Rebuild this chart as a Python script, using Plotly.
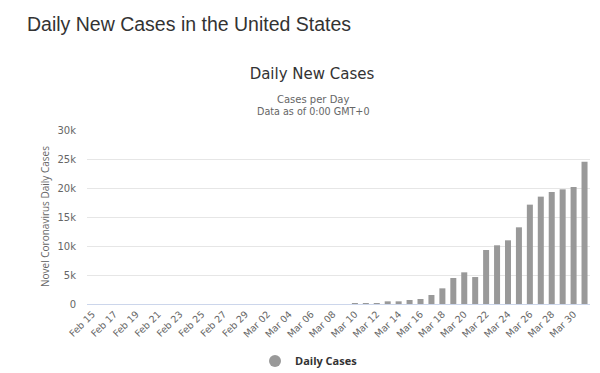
import plotly.graph_objects as go

feb = [f"Feb {d}" for d in range(15, 30)]
mar = [f"Mar {d:02d}" for d in range(1, 32)]
dates = feb + mar

daily_cases = [
    0, 0, 0, 0, 0, 0, 0, 0, 0, 0, 0, 0, 0, 0, 0,            # Feb 15 - Feb 29
    0, 0, 0, 0, 0, 0, 0, 0, 0,                                # Mar 01 - Mar 09
    150, 160, 170, 460, 460, 690, 860, 1550, 2700, 4480,      # Mar 10 - Mar 19
    5460, 4650, 9310, 10120, 10980, 13220, 17130, 18510,      # Mar 20 - Mar 27
    19310, 19770, 20170, 24540,                               # Mar 28 - Mar 31
]

tick_labels = dates[::2]
y_ticks = [0, 5000, 10000, 15000, 20000, 25000, 30000]
y_tick_text = ["0", "5k", "10k", "15k", "20k", "25k", "30k"]

BAR_COLOR = "#999999"
TICK_FONT = "DejaVu Sans"

# page body adds an 8px margin, so work in page coordinates minus 8
OFF = 8
W, H = 600 - OFF, 373 - OFF
L, T = 87 - OFF, 130 - OFF
PR, PB = 590 - OFF, 304 - OFF
R, B = W - PR, H - PB
PW, PH = PR - L, PB - T


def px_x(x):
    return (x - OFF - L) / PW


def px_y(y):
    return (PB - (y - OFF)) / PH


fig = go.Figure()
fig.add_trace(go.Bar(
    x=dates, y=daily_cases, marker_color=BAR_COLOR, marker_line_width=0,
    name="Daily Cases", showlegend=False,
))
fig.add_trace(go.Scatter(
    x=[None], y=[None], mode="markers",
    marker=dict(color=BAR_COLOR, size=12, symbol="circle"),
    name="<b>Daily Cases</b>", showlegend=True,
))

fig.update_layout(
    width=W, height=H,
    margin=dict(l=L, r=R, t=T, b=B, autoexpand=False),
    paper_bgcolor="white", plot_bgcolor="white",
    bargap=0.45,
    title=dict(text="Daily New Cases", x=(312 - OFF) / W, xanchor="center",
               y=1 - (74 - OFF) / H, yanchor="middle",
               font=dict(family=TICK_FONT, size=15, color="#333333")),
    legend=dict(orientation="h", x=px_x(309), xanchor="center",
                y=px_y(361), yanchor="middle",
                font=dict(family="Open Sans", size=11, color="#333333"),
                itemsizing="constant"),
    xaxis=dict(
        type="category", tickmode="array", tickvals=tick_labels, ticktext=tick_labels,
        range=[-0.5, len(dates) - 0.5], automargin=False,
        tickangle=-45, tickfont=dict(family=TICK_FONT, size=9.5, color="#666666"),
        showgrid=False, showline=True, linecolor="#ccd6eb", linewidth=1,
        ticks="", zeroline=False,
    ),
    yaxis=dict(
        range=[0, 30000], tickvals=y_ticks, ticktext=y_tick_text, automargin=False,
        tickfont=dict(family=TICK_FONT, size=10, color="#666666"),
        showgrid=True, gridcolor="#e6e6e6", gridwidth=1, zeroline=False,
        ticklabelstandoff=10,
    ),
    annotations=[
        dict(text="Daily New Cases in the United States", xref="paper", yref="paper",
             x=px_x(25), xanchor="left", y=px_y(24), yanchor="middle",
             showarrow=False, font=dict(family="Liberation Sans", size=19.5, color="#333333")),
        dict(text="Cases per Day", xref="paper", yref="paper",
             x=px_x(313), xanchor="center", y=px_y(99), yanchor="middle",
             showarrow=False, font=dict(family=TICK_FONT, size=10, color="#666666")),
        dict(text="Data as of 0:00 GMT+0", xref="paper", yref="paper",
             x=px_x(313), xanchor="center", y=px_y(111), yanchor="middle",
             showarrow=False, font=dict(family=TICK_FONT, size=9.6, color="#666666")),
        dict(text="Novel Coronavirus Daily Cases", xref="paper", yref="paper",
             x=px_x(45), xanchor="center", y=px_y(217), yanchor="middle", textangle=-90,
             showarrow=False, font=dict(family="Open Sans", size=10, color="#666666")),
    ],
)

fig.write_html("out.html")
